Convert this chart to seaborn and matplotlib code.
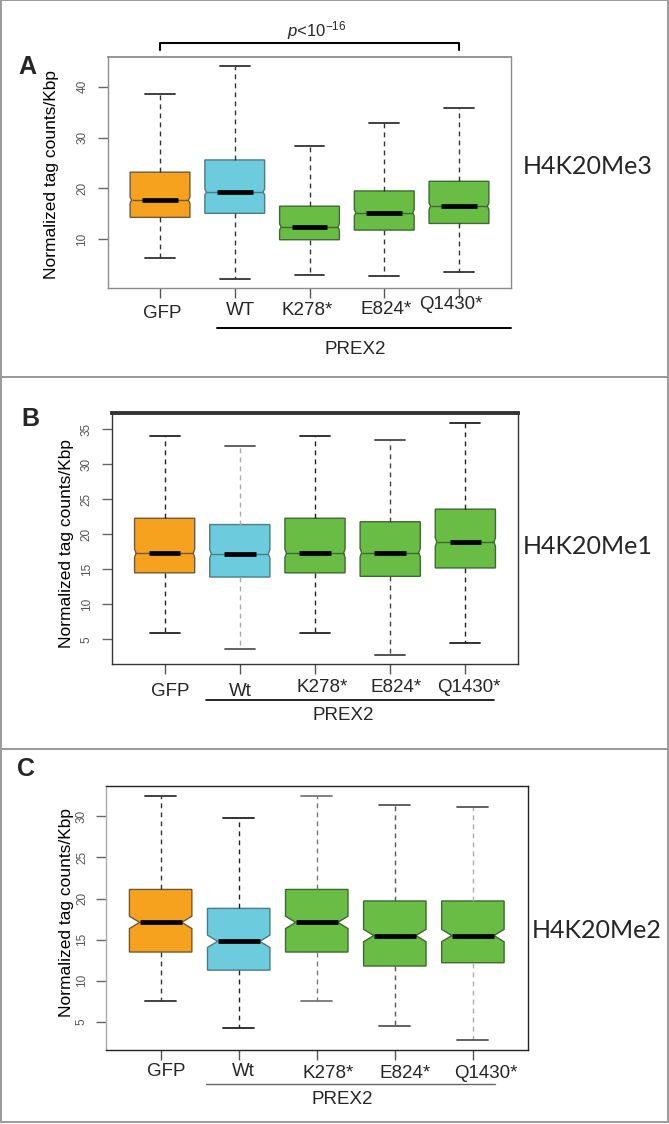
import numpy as np
import pandas as pd
import matplotlib
matplotlib.use("Agg")
import matplotlib.pyplot as plt
import seaborn as sns
from matplotlib.path import Path
from matplotlib.patches import Rectangle

# ---- data (five-number summaries) ----
groups_a = ["GFP", "WT", "K278*", "E824*", "Q1430*"]
groups_bc = ["GFP", "Wt", "K278*", "E824*", "Q1430*"]

# A: H4K20Me3
me3_low = [6.4, 2.1, 2.9, 2.8, 3.5]
me3_q1 = [14.3, 15.1, 9.9, 11.8, 13.1]
me3_med = [17.7, 19.3, 12.4, 15.2, 16.5]
me3_q3 = [23.2, 25.6, 16.5, 19.5, 21.4]
me3_high = [38.6, 44.1, 28.3, 32.8, 35.9]

# B: H4K20Me1
me1_low = [5.9, 3.6, 5.9, 2.7, 4.4]
me1_q1 = [14.5, 13.9, 14.5, 14.0, 15.2]
me1_med = [17.3, 17.2, 17.3, 17.4, 18.9]
me1_q3 = [22.3, 21.4, 22.3, 21.8, 23.6]
me1_high = [34.1, 32.6, 34.1, 33.5, 35.9]

# C: H4K20Me2
me2_low = [7.6, 4.3, 7.6, 4.5, 2.8]
me2_q1 = [13.5, 11.3, 13.5, 11.8, 12.2]
me2_med = [17.1, 14.8, 17.1, 15.5, 15.5]
me2_q3 = [21.1, 18.8, 21.1, 19.7, 19.7]
me2_high = [32.5, 29.8, 32.5, 31.4, 31.1]

box_colors = ["#F7A21E", "#6CCBDC", "#69BD45", "#69BD45", "#69BD45"]
edge_colors = ["#6A5A3E", "#4C7C86", "#3C6A30", "#3C6A30", "#3C6A30"]

sns.set_style("ticks")
plt.rcParams["font.family"] = ["Liberation Sans", "DejaVu Sans"]
plt.rcParams["mathtext.fontset"] = "custom"
plt.rcParams["mathtext.rm"] = "Liberation Sans"
plt.rcParams["mathtext.it"] = "Liberation Sans:italic"

W, H = 669, 1124
fig = plt.figure(figsize=(W / 100, H / 100), dpi=100)


def fx(px):
    return px / W


def fy(py):
    return 1 - py / H


layouts = [
    dict(box=(107.7, 57.3, 511.3, 288), ylim=(0.4, 45.8), yticks=[10, 20, 30, 40],
         notch=(0.02, 0.6), thick=0.24, letter=("A", 27, 67, 18), mark=("H4K20Me3", 523, 166.5),
         whisk=["#333333"] * 5, spine="#8c8c8c", top_lw=1.3,
         ylab=(-0.12, 0.49), ytl_pad=7,
         xl_dx=[2, 6, -2, 2, -8], xl_dy=[25, 22, 22, 21, 16.5],
         prex_line=(0.757, 4.69, -0.1747, "black", 1.4), prex_txt=(2.61, -0.267)),
    dict(box=(112, 413.3, 518, 664), ylim=(1.47, 37.3), yticks=[5, 10, 15, 20, 25, 30, 35],
         notch=(0.02, 0.6), thick=0.21, letter=("B", 30, 419, 18), mark=("H4K20Me1", 523, 546),
         whisk=["#222222", "#aaaaaa", "#222222", "#444444", "#222222"], spine="#333333", top_lw=2.8,
         ylab=(-0.094, 0.479), ytl_pad=7,
         xl_dx=[6, 1, 7, 6, 4], xl_dy=[28, 27, 24, 24, 24],
         prex_line=(0.55, 4.38, -0.1436, "black", 1.2), prex_txt=(2.37, -0.2074)),
    dict(box=(106, 785.7, 527.5, 1050), ylim=(1.6, 33.7), yticks=[5, 10, 15, 20, 25, 30],
         notch=(0.13, 0.75), thick=0.27, letter=("C", 25.5, 769.5, 18), mark=("H4K20Me2", 532, 931),
         whisk=["#333333", "#222222", "#777777", "#555555", "#aaaaaa"], spine="#222222", top_lw=1.0,
         ylab=(-0.075, 0.52), ytl_pad=6,
         xl_dx=[6, 5, 11, 10, 13], xl_dy=[21, 22, 23, 24, 23],
         prex_line=(0.575, 4.28, -0.13, "#666666", 1.0), prex_txt=(2.33, -0.189)),
]

panel_data = [
    (groups_a, me3_low, me3_q1, me3_med, me3_q3, me3_high),
    (groups_bc, me1_low, me1_q1, me1_med, me1_q3, me1_high),
    (groups_bc, me2_low, me2_q1, me2_med, me2_q3, me2_high),
]

axes = []
for k, (lay, (labels, low, q1, med, q3, high)) in enumerate(zip(layouts, panel_data)):
    x0p, y0p, x1p, y1p = lay["box"]
    ax = fig.add_axes([fx(x0p), fy(y1p), (x1p - x0p) / W, (y1p - y0p) / H])
    axes.append(ax)

    table = pd.DataFrame({
        "group": np.repeat(labels, 5),
        "value": np.column_stack([low, q1, med, q3, high]).ravel(),
    })
    sns.boxplot(data=table, x="group", y="value", hue="group", order=labels,
                hue_order=labels, palette=box_colors, saturation=1, width=0.8,
                whis=(0, 100), showfliers=False, legend=False, linewidth=1, ax=ax)

    # R-style notched boxes
    d, nh = lay["notch"]
    for box in ax.patches:
        v = box.get_path().vertices
        bx0, bx1 = v[:, 0].min(), v[:, 0].max()
        i = int(round((bx0 + bx1) / 2))
        m = med[i]
        verts = [(bx0, q1[i]), (bx1, q1[i]), (bx1, m - nh), (bx1 - d, m), (bx1, m + nh),
                 (bx1, q3[i]), (bx0, q3[i]), (bx0, m + nh), (bx0 + d, m), (bx0, m - nh),
                 (bx0, q1[i])]
        box.set_path(Path(verts, closed=True))
        box.set_facecolor(box_colors[i])
        box.set_edgecolor(edge_colors[i])
        box.set_linewidth(1.0)

    for ln in list(ax.lines):
        xd = np.asarray(ln.get_xdata(), float)
        yd = np.asarray(ln.get_ydata(), float)
        i = int(round(xd.mean()))
        if abs(xd[0] - xd[-1]) < 1e-9:
            ln.set_color(lay["whisk"][i])
            ln.set_linestyle((0, (3.5, 3)))
            ln.set_linewidth(1.0)
        elif abs(yd[0] - med[i]) < 1e-9:
            ln.set_xdata([xd.min() + d, xd.max() - d])
            ln.set_color(edge_colors[i])
            ln.set_linewidth(1.0)
        else:
            ln.set_color(lay["whisk"][i] if lay["whisk"][i] != "#aaaaaa" else "#555555")
            ln.set_linewidth(1.3)

    for i in range(len(labels)):
        ax.plot([i - lay["thick"], i + lay["thick"]], [med[i], med[i]], color="black",
                lw=3.4, solid_capstyle="butt", zorder=5)

    ax.set_xlim(-0.7, 4.7)
    ax.set_ylim(*lay["ylim"])
    ax.set_yticks(lay["yticks"])
    ax.set_xticks(range(len(labels)))
    ax.set_xlabel("")
    ax.set_ylabel("Normalized tag counts/Kbp", fontsize=12.5, color="black")
    ax.yaxis.set_label_coords(*lay["ylab"])
    ax.tick_params(axis="x", length=7, width=1, color="#555555", labelbottom=False)
    ax.tick_params(axis="y", length=7, width=1, color="#666666", labelsize=8.5,
                   labelcolor="#555555", pad=lay["ytl_pad"], labelrotation=90)
    for t in ax.get_yticklabels():
        t.set_va("center")
    for side, sp in ax.spines.items():
        sp.set_visible(True)
        sp.set_color(lay["spine"])
        sp.set_linewidth(1.0)
    ax.spines["top"].set_linewidth(lay["top_lw"])
    if k == 2:
        ax.spines["left"].set_color("#aaaaaa")

    blend = ax.get_xaxis_transform()
    for i, lab in enumerate(labels):
        ax.annotate(lab, xy=(i, 0), xycoords=blend, xytext=(lay["xl_dx"][i], -lay["xl_dy"][i]),
                    textcoords="offset pixels", ha="center", va="center", fontsize=13.5,
                    annotation_clip=False)

    lx0, lx1, ly, lc, lw = lay["prex_line"]
    ax.plot([lx0, lx1], [ly, ly], transform=blend, color=lc, lw=lw, clip_on=False)
    ax.text(lay["prex_txt"][0], lay["prex_txt"][1], "PREX2", transform=blend,
            ha="center", va="center", fontsize=13.5)

    letter, lx, lyy, lsize = lay["letter"]
    fig.text(fx(lx), fy(lyy), letter, ha="center", va="center", fontsize=lsize,
             fontweight="bold")
    mark, mx, my = lay["mark"]
    fig.text(fx(mx), fy(my), mark, ha="left", va="center", fontsize=18,
             family=["Lato", "DejaVu Sans"])

# significance bracket above panel A
ax = axes[0]
blend = ax.get_xaxis_transform()
ax.plot([0, 0, 4, 4], [1.0316, 1.0607, 1.0607, 1.0316], transform=blend, color="black",
        lw=1.5, clip_on=False)
ax.text(2.09, 1.066, r"$p$<10$^{-16}$", transform=blend, ha="center", va="bottom",
        fontsize=12)

# grey frames around the three panels
for top, bottom in [(0.5, 377), (377, 748.5), (748.5, 1122)]:
    fig.add_artist(Rectangle((fx(1), fy(bottom)), 666.5 / W, (bottom - top) / H,
                             transform=fig.transFigure, fill=False, ec="#9a9a9a", lw=1.4))

fig.savefig("out.png", dpi=100)
